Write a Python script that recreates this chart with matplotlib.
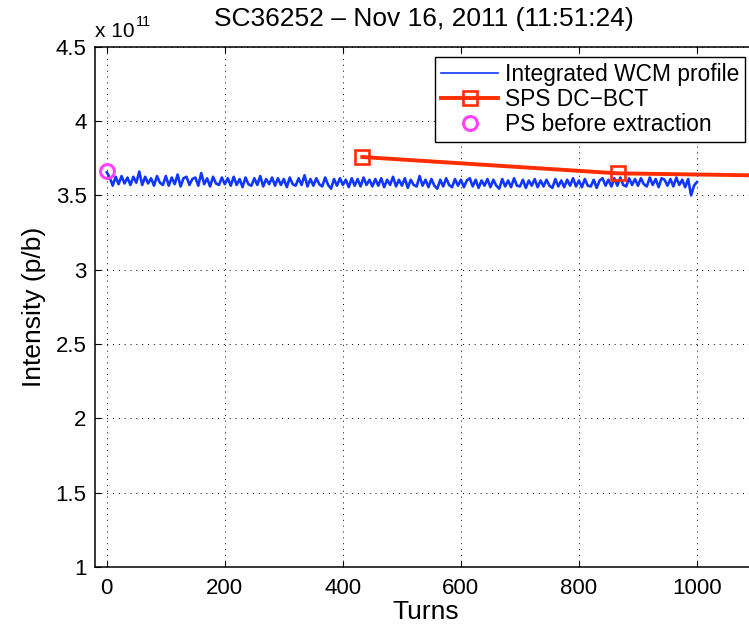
import numpy as np
import matplotlib
matplotlib.use("Agg")
import matplotlib.pyplot as plt
from matplotlib.ticker import FormatStrFormatter

plt.rcParams['font.family'] = ['Liberation Sans', 'DejaVu Sans']

# ------------------------------
# Data (intensity in units of 1e11 p/b)
# ------------------------------
wcm_step = 5
wcm_intensity = [
    3.655, 3.620, 3.565, 3.625, 3.575, 3.630, 3.580, 3.620, 3.570, 3.625,
    3.585, 3.660, 3.570, 3.625, 3.580, 3.615, 3.565, 3.630, 3.585, 3.570,
    3.630, 3.565, 3.620, 3.575, 3.640, 3.560, 3.615, 3.625, 3.570, 3.610,
    3.620, 3.565, 3.650, 3.575, 3.615, 3.560, 3.625, 3.580, 3.570, 3.620,
    3.575, 3.615, 3.565, 3.625, 3.570, 3.610, 3.555, 3.620, 3.575, 3.565,
    3.615, 3.570, 3.630, 3.560, 3.610, 3.575, 3.620, 3.565, 3.615, 3.570,
    3.610, 3.555, 3.620, 3.575, 3.565, 3.615, 3.570, 3.635, 3.560, 3.610,
    3.565, 3.615, 3.575, 3.560, 3.620, 3.570, 3.545, 3.610, 3.565, 3.615,
    3.570, 3.605, 3.555, 3.615, 3.565, 3.610, 3.560, 3.620, 3.570, 3.605,
    3.560, 3.610, 3.565, 3.615, 3.555, 3.605, 3.570, 3.625, 3.560, 3.605,
    3.565, 3.615, 3.550, 3.605, 3.570, 3.560, 3.630, 3.565, 3.605, 3.555,
    3.610, 3.565, 3.545, 3.605, 3.560, 3.615, 3.570, 3.555, 3.610, 3.565,
    3.605, 3.555, 3.600, 3.615, 3.560, 3.605, 3.550, 3.600, 3.565, 3.610,
    3.555, 3.605, 3.565, 3.545, 3.610, 3.560, 3.600, 3.555, 3.615, 3.565,
    3.560, 3.605, 3.550, 3.600, 3.565, 3.610, 3.555, 3.600, 3.560, 3.605,
    3.565, 3.550, 3.610, 3.560, 3.600, 3.555, 3.605, 3.565, 3.615, 3.560,
    3.600, 3.555, 3.610, 3.565, 3.560, 3.605, 3.550, 3.600, 3.615, 3.565,
    3.605, 3.560, 3.615, 3.565, 3.620, 3.570, 3.560, 3.615, 3.570, 3.610,
    3.565, 3.615, 3.575, 3.560, 3.620, 3.570, 3.610, 3.555, 3.615, 3.605,
    3.565, 3.610, 3.560, 3.620, 3.570, 3.605, 3.555, 3.610, 3.500, 3.565,
    3.590,
]
wcm_turns = np.arange(len(wcm_intensity)) * wcm_step

bct_turns = [433, 866, 1299]
bct_intensity = [3.758, 3.648, 3.623]

ps_turns = [0]
ps_intensity = [3.661]

x_ticks = [0, 200, 400, 600, 800, 1000]
y_ticks = [1, 1.5, 2, 2.5, 3, 3.5, 4, 4.5]

title = "SC36252 \u2013 Nov 16, 2011 (11:51:24)"

# ------------------------------
# Plot
# ------------------------------
W, H = 749, 627
fig = plt.figure(figsize=(W / 100, H / 100), dpi=100)
ax = fig.add_axes([95 / W, 1 - 567 / H, (756 - 95) / W, (567 - 46.7) / H])

ax.plot(wcm_turns, wcm_intensity, color="#0f37ff", linewidth=1.9,
        label="Integrated WCM profile", zorder=3)
ax.plot(bct_turns, bct_intensity, color="#ff2d00", linewidth=2.8,
        marker="s", markersize=9.5, markerfacecolor="none",
        markeredgewidth=1.9, label="SPS DC\u2212BCT", zorder=4)
ax.plot(ps_turns, ps_intensity, linestyle="none", marker="o",
        markersize=10, markerfacecolor="none", markeredgecolor="#ff40ff",
        markeredgewidth=2.2, label="PS before extraction", zorder=5)

ax.set_xlim(-20, 1100)
ax.set_ylim(1, 4.5)
ax.set_xticks(x_ticks)
ax.set_yticks(y_ticks)
ax.yaxis.set_major_formatter(FormatStrFormatter("%g"))

ax.grid(True, color="black", linestyle=(0, (1, 5)), linewidth=0.7)
ax.tick_params(direction="in", length=4, width=0.8, labelsize=16,
               top=True, right=True, pad=6)
ax.tick_params(axis="x", pad=8)
for sp in ax.spines.values():
    sp.set_linewidth(1.1)

fig.text(424 / W, 1 - 19 / H, title, ha="center", va="center", fontsize=19)
fig.text(426 / W, 1 - 612 / H, "Turns", ha="center", va="center", fontsize=19)
fig.text(34 / W, 1 - 307 / H, "Intensity (p/b)", ha="center", va="center",
         rotation=90, fontsize=19)
fig.text(95 / W, 1 - 37 / H, "x 10", ha="left", va="baseline", fontsize=15)
fig.text(136 / W, 1 - 26 / H, "11", ha="left", va="baseline", fontsize=10.5)

leg = ax.legend(loc="upper right", bbox_to_anchor=(745 / W, 1 - 57 / H),
                bbox_transform=fig.transFigure, borderaxespad=0,
                fontsize=16.4, fancybox=False, framealpha=1,
                edgecolor="black", handlelength=2.5, handletextpad=0.3,
                labelspacing=0.1, borderpad=0.25)
leg.get_frame().set_linewidth(1.0)
leg.legend_handles[0].set_linewidth(1.2)

fig.savefig("out.png", dpi=100)
